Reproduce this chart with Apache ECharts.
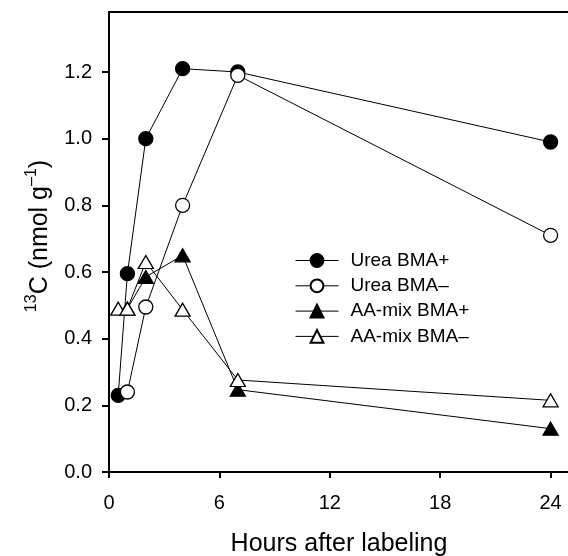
<!DOCTYPE html>
<html>
<head>
<meta charset="utf-8">
<script src="https://cdn.jsdelivr.net/npm/echarts@6/dist/echarts.min.js"></script>
<style>
  html, body { margin: 0; padding: 0; background: #fff; }
  #chart { width: 568px; height: 556px; }
</style>
</head>
<body>
<div id="chart"></div>
<script>
// data
var seriesNames = ['Urea BMA+', 'Urea BMA\u2013', 'AA-mix BMA+', 'AA-mix BMA\u2013'];
var ureaPlusHours = [0.5, 1, 2, 4, 7, 24];
var ureaPlusValues = [0.23, 0.595, 1.0, 1.21, 1.2, 0.99];
var ureaMinusHours = [1, 2, 4, 7, 24];
var ureaMinusValues = [0.24, 0.495, 0.8, 1.19, 0.71];
var aaPlusHours = [1, 2, 4, 7, 24];
var aaPlusValues = [0.49, 0.585, 0.65, 0.247, 0.13];
var aaMinusHours = [0.5, 1, 2, 4, 7, 24];
var aaMinusValues = [0.49, 0.49, 0.63, 0.487, 0.276, 0.215];
var xTicks = [0, 6, 12, 18, 24];
var yTicks = [0, 0.2, 0.4, 0.6, 0.8, 1.0, 1.2];

var FONT = '"Liberation Sans", Arial, Helvetica, sans-serif';

function pairs(xs, ys) {
    return xs.map(function (x, i) { return [x, ys[i]]; });
}

function makeSeries(name, xs, ys, symbol, size, filled) {
    return {
        name: name,
        type: 'line',
        data: pairs(xs, ys),
        symbol: symbol,
        symbolSize: size,
        showAllSymbol: true,
        animation: false,
        lineStyle: { color: '#000', width: 1 },
        itemStyle: {
            color: filled ? '#000' : '#fff',
            borderColor: '#000',
            borderWidth: 1.3,
            opacity: 1
        },
        emphasis: { disabled: true }
    };
}

var chart = echarts.init(document.getElementById('chart'), null, { renderer: 'canvas' });

var option = {
    backgroundColor: '#fff',
    animation: false,
    textStyle: { fontFamily: FONT, color: '#000' },
    grid: { left: 109, top: 12, width: 460, height: 460, containLabel: false, outerBoundsMode: 'none' },
    legend: {
        orient: 'vertical',
        left: 290,
        top: 246,
        padding: 5,
        itemWidth: 43,
        itemHeight: 16,
        itemGap: 6.3,
        data: seriesNames,
        textStyle: { fontFamily: FONT, fontSize: 19, lineHeight: 16, color: '#000', padding: [0, 0, 0, 7] },
        lineStyle: { width: 1, color: '#000' }
    },
    xAxis: [{
        type: 'value',
        min: 0,
        max: 25,
        interval: 6,
        name: 'Hours after labeling',
        nameLocation: 'middle',
        nameGap: 60,
        nameTextStyle: { fontFamily: FONT, fontSize: 25, color: '#000' },
        axisLine: { show: true, onZero: false, lineStyle: { color: '#000', width: 2 } },
        axisTick: { show: true, inside: false, length: 6, customValues: xTicks, lineStyle: { color: '#000', width: 2 } },
        axisLabel: { margin: 21, fontSize: 20, color: '#000', fontFamily: FONT, customValues: xTicks },
        splitLine: { show: false }
    }, {
        type: 'value',
        position: 'top',
        min: 0,
        max: 25,
        axisLine: { show: true, onZero: false, lineStyle: { color: '#000', width: 2 } },
        axisTick: { show: false },
        axisLabel: { show: false },
        splitLine: { show: false }
    }],
    yAxis: {
        type: 'value',
        min: 0,
        max: 1.38,
        interval: 0.2,
        name: '{sup|13}{big|C (nmol g}{sup|\u20131}{big|)}',
        nameLocation: 'middle',
        nameGap: 56,
        nameTextStyle: {
            fontFamily: FONT,
            color: '#000',
            padding: [0, 0, 0, 12],
            rich: {
                big: { fontSize: 25, fontFamily: FONT, color: '#000', lineHeight: 29, verticalAlign: 'bottom' },
                sup: { fontSize: 16, fontFamily: FONT, color: '#000', lineHeight: 29, verticalAlign: 'top' }
            }
        },
        axisLine: { show: true, onZero: false, lineStyle: { color: '#000', width: 2 } },
        axisTick: { show: true, inside: false, length: 7, customValues: yTicks, lineStyle: { color: '#000', width: 2 } },
        axisLabel: {
            margin: 17, fontSize: 20, color: '#000', fontFamily: FONT, customValues: yTicks,
            formatter: function (v) { return v.toFixed(1); }
        },
        splitLine: { show: false }
    },
    series: [
        makeSeries(seriesNames[0], ureaPlusHours, ureaPlusValues, 'circle', 14, true),
        makeSeries(seriesNames[1], ureaMinusHours, ureaMinusValues, 'circle', 14, false),
        makeSeries(seriesNames[2], aaPlusHours, aaPlusValues, 'triangle', [15, 13], true),
        makeSeries(seriesNames[3], aaMinusHours, aaMinusValues, 'triangle', [15, 13], false)
    ]
};

chart.setOption(option);
</script>
</body>
</html>
